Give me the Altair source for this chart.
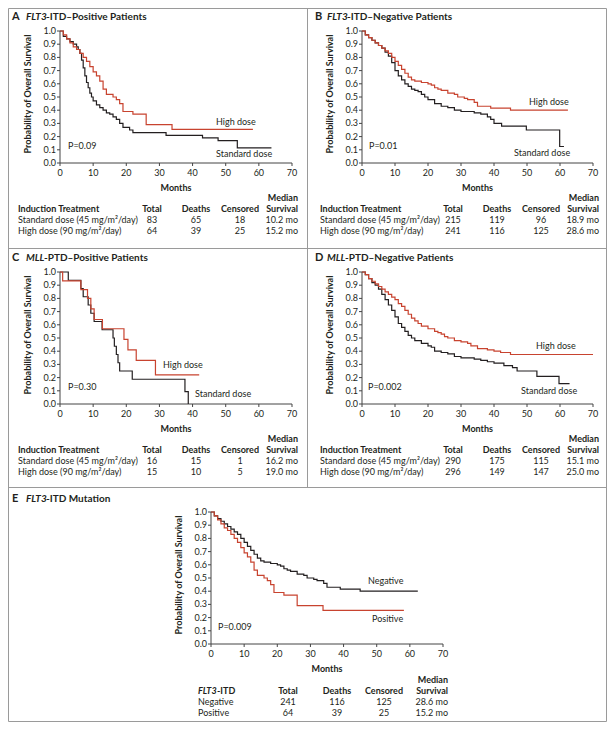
import altair as alt
import pandas as pd

# ---------------- data ----------------
# Panel A: FLT3-ITD positive
A_std_t = [0, 1, 2, 3, 4, 5, 5.5, 6, 6.5, 7, 7.5, 8, 8.5, 9, 9.5, 10, 11, 12, 13, 14, 15, 16, 17, 18, 19, 21, 22, 32, 43, 47.7, 53.5, 63.8]
A_std_s = [1, 0.96, 0.94, 0.92, 0.90, 0.88, 0.86, 0.83, 0.78, 0.72, 0.66, 0.61, 0.57, 0.53, 0.50, 0.47, 0.44, 0.42, 0.40, 0.38, 0.37, 0.35, 0.33, 0.30, 0.27, 0.25, 0.23, 0.21, 0.19, 0.17, 0.115, 0.115]
A_high_t = [0, 1, 2, 3, 4, 5, 6, 7, 8, 9, 10, 11, 12, 13, 14, 16, 17, 18, 19, 22, 26, 33.8, 58.2]
A_high_s = [1, 0.97, 0.94, 0.91, 0.88, 0.86, 0.83, 0.80, 0.77, 0.73, 0.69, 0.66, 0.62, 0.56, 0.52, 0.50, 0.48, 0.45, 0.39, 0.37, 0.29, 0.255, 0.255]

# Panel B: FLT3-ITD negative
B_std_t = [0, 1, 2, 3, 4, 5, 6, 7, 8, 9, 10, 11, 12, 13, 14, 15, 16, 17, 18, 19, 20, 22, 24, 26, 28, 30, 34, 36, 38, 39, 40, 42.3, 49.8, 59.9, 61.2]
B_std_s = [1, 0.97, 0.95, 0.93, 0.91, 0.89, 0.87, 0.84, 0.81, 0.76, 0.70, 0.66, 0.63, 0.60, 0.58, 0.56, 0.55, 0.54, 0.52, 0.50, 0.48, 0.45, 0.43, 0.42, 0.40, 0.39, 0.38, 0.37, 0.35, 0.33, 0.30, 0.28, 0.25, 0.125, 0.125]
B_high_t = [0, 1, 2, 3, 4, 5, 6, 7, 8, 9, 10, 11, 12, 13, 14, 15, 16, 18, 20, 21, 22, 23, 24, 26, 28, 29, 31, 32, 34, 35, 39, 45, 62.4]
B_high_s = [1, 0.97, 0.95, 0.93, 0.91, 0.89, 0.87, 0.85, 0.83, 0.80, 0.77, 0.74, 0.71, 0.68, 0.65, 0.63, 0.62, 0.61, 0.60, 0.59, 0.57, 0.56, 0.55, 0.53, 0.52, 0.50, 0.49, 0.48, 0.46, 0.43, 0.415, 0.40, 0.40]

# Panel C: MLL-PTD positive
C_std_t = [0, 2.5, 6.3, 7.0, 8.5, 9.3, 10.3, 12.7, 16.0, 16.4, 17.0, 17.5, 18.0, 21.8, 37.7, 38.7]
C_std_s = [1, 0.9375, 0.875, 0.8125, 0.75, 0.6875, 0.625, 0.5625, 0.5, 0.4375, 0.375, 0.3125, 0.25, 0.1875, 0.09375, 0]
C_high_t = [0, 0.8, 6.3, 8.3, 9.3, 10.3, 12.8, 19.3, 20.5, 23.0, 28.8, 42.0]
C_high_s = [1, 0.933, 0.867, 0.80, 0.72, 0.64, 0.57, 0.49, 0.41, 0.33, 0.22, 0.22]

# Panel D: MLL-PTD negative
D_std_t = [0, 1, 2, 3, 4, 5, 6, 7, 8, 9, 10, 11, 12, 13, 14, 15, 16, 18, 20, 21, 22, 24, 26, 28, 30, 32, 34, 36, 38, 40, 43, 45.6, 47, 53, 59.7, 62.9]
D_std_s = [1, 0.98, 0.95, 0.92, 0.90, 0.87, 0.83, 0.79, 0.75, 0.71, 0.66, 0.61, 0.58, 0.55, 0.52, 0.50, 0.48, 0.46, 0.44, 0.43, 0.40, 0.39, 0.38, 0.36, 0.35, 0.35, 0.34, 0.33, 0.32, 0.31, 0.29, 0.275, 0.25, 0.21, 0.155, 0.155]
D_high_t = [0, 1, 2, 3, 4, 5, 6, 7, 8, 9, 10, 11, 12, 13, 14, 15, 16, 17, 18, 20, 22, 23, 24, 25, 26, 28, 30, 32, 33, 35, 38, 40, 42, 45, 70]
D_high_s = [1, 0.98, 0.95, 0.93, 0.91, 0.89, 0.87, 0.85, 0.83, 0.81, 0.79, 0.76, 0.74, 0.71, 0.68, 0.65, 0.63, 0.61, 0.59, 0.57, 0.55, 0.54, 0.53, 0.51, 0.50, 0.48, 0.47, 0.46, 0.44, 0.42, 0.41, 0.40, 0.39, 0.375, 0.375]

# Panel E: FLT3-ITD negative vs positive (same patients as the high-dose groups)
E_neg_t, E_neg_s = B_high_t, B_high_s
E_pos_t, E_pos_s = A_high_t, A_high_s

# tables
STD_LABEL = "Standard dose (45 mg/m\u00b2/day)"
HIGH_LABEL = "High dose (90 mg/m\u00b2/day)"
A_total, A_deaths, A_cens, A_med = [83, 64], [65, 39], [18, 25], [10.2, 15.2]
B_total, B_deaths, B_cens, B_med = [215, 241], [119, 116], [96, 125], [18.9, 28.6]
C_total, C_deaths, C_cens, C_med = [16, 15], [15, 10], [1, 5], [16.2, 19.0]
D_total, D_deaths, D_cens, D_med = [290, 296], [175, 149], [115, 147], [15.1, 25.0]
E_labels = ["Negative", "Positive"]
E_total, E_deaths, E_cens, E_med = [241, 64], [116, 39], [125, 25], [28.6, 15.2]

X_TICKS = [0, 10, 20, 30, 40, 50, 60, 70]
Y_TICKS = [0.0, 0.1, 0.2, 0.3, 0.4, 0.5, 0.6, 0.7, 0.8, 0.9, 1.0]

# ---------------- style ----------------
FONT = "Lato"
RED = "#c8432f"
BLK = "#231f20"
TXT = "#231f20"
AX = "#444444"
BORDER = "#9a9a9a"
OFF = 8  # page margin
ONE = pd.DataFrame({"k": [0]})


def txt(s, x, y, align="left", size=9, weight="normal", style="normal", color=TXT, angle=0):
    return alt.Chart(ONE).mark_text(
        text=s, align=align, baseline="middle", fontSize=size, fontWeight=weight,
        fontStyle=style, color=color, font=FONT, angle=angle
    ).encode(x=alt.value(x - OFF), y=alt.value(y - OFF))


def rule(x1, x2, y1, y2, color=BORDER, w=1):
    return alt.Chart(ONE).mark_rule(color=color, strokeWidth=w).encode(
        x=alt.value(x1), x2=alt.value(x2), y=alt.value(y1), y2=alt.value(y2))


def curve(t, s, color, xs, ys):
    df = pd.DataFrame({"t": t, "s": s})
    return alt.Chart(df).mark_line(interpolate="step-after", color=color, strokeWidth=1.2).encode(
        x=alt.X("t:Q", scale=xs, axis=None), y=alt.Y("s:Q", scale=ys, axis=None))


def panel(x0, x1, yb, yt, series, labels, pval, pxy):
    xs = alt.Scale(domain=[0, 70], range=[x0 - OFF, x1 - OFF], nice=False, zero=False)
    ys = alt.Scale(domain=[0, 1], range=[yb - OFF, yt - OFF], nice=False, zero=False)
    layers = []
    xt = pd.DataFrame({"v": X_TICKS})
    yt_df = pd.DataFrame({"v": Y_TICKS})
    dom = pd.DataFrame({"a": [0], "b": [70], "c": [0], "d": [1]})
    # x axis
    layers.append(alt.Chart(dom).mark_rule(color=AX, strokeWidth=1).encode(
        x=alt.X("a:Q", scale=xs, axis=None), x2="b:Q", y=alt.value(yb - OFF)))
    layers.append(alt.Chart(xt).mark_rule(color=AX, strokeWidth=1).encode(
        x=alt.X("v:Q", scale=xs, axis=None), y=alt.value(yb - OFF), y2=alt.value(yb - OFF + 3)))
    layers.append(alt.Chart(xt).mark_text(baseline="top", fontSize=9, font=FONT, color=TXT).encode(
        x=alt.X("v:Q", scale=xs, axis=None), y=alt.value(yb - OFF + 6), text="v:Q"))
    # y axis
    layers.append(alt.Chart(dom).mark_rule(color=AX, strokeWidth=1).encode(
        y=alt.Y("c:Q", scale=ys, axis=None), y2="d:Q", x=alt.value(x0 - OFF)))
    layers.append(alt.Chart(yt_df).mark_rule(color=AX, strokeWidth=1).encode(
        y=alt.Y("v:Q", scale=ys, axis=None), x=alt.value(x0 - OFF - 3), x2=alt.value(x0 - OFF)))
    layers.append(alt.Chart(yt_df).mark_text(align="right", baseline="middle", fontSize=9, font=FONT, color=TXT).encode(
        y=alt.Y("v:Q", scale=ys, axis=None), x=alt.value(x0 - OFF - 4), text=alt.Text("v:Q", format=".1f")))
    for t, s, c in series:
        layers.append(curve(t, s, c, xs, ys))
    for s, x, y in labels:
        layers.append(txt(s, x, y))
    layers.append(txt(pval, pxy[0], pxy[1]))
    # axis titles
    layers.append(txt("Months", (x0 + x1) / 2, yb + 25, align="center", weight="bold"))
    layers.append(txt("Probability of Overall Survival", x0 - 32, (yb + yt) / 2 - 3,
                      align="center", weight="bold", angle=270))
    return alt.layer(*layers)


def title(letter, ital, rest, xl, xi, xr, y):
    return [txt(letter, xl, y, size=11, weight="bold"),
            txt(ital, xi, y, size=10, weight="bold", style="italic"),
            txt(rest, xr, y, size=10, weight="bold")]


def table(xl, xt, xd, xc, xm, ytop, head, rows, totals, deaths, cens, meds):
    out = [txt("Median", xm, ytop, align="right", weight="bold")]
    yh = ytop + 11
    out += head(yh)
    out += [txt("Total", xt, yh, align="center", weight="bold"),
            txt("Deaths", xd, yh, align="center", weight="bold"),
            txt("Censored", xc, yh, align="center", weight="bold"),
            txt("Survival", xm, yh, align="right", weight="bold")]
    for i in range(2):
        y = yh + 11 * (i + 1)
        out += [txt(rows[i], xl, y),
                txt(str(totals[i]), xt, y, align="center"),
                txt(str(deaths[i]), xd, y, align="center"),
                txt(str(cens[i]), xc, y, align="center"),
                txt(f"{meds[i]:.1f} mo", xm, y, align="right")]
    return out


def ind_head(xl):
    return lambda y: [txt("Induction Treatment", xl, y, weight="bold")]


def flt_head(xl, xr):
    return lambda y: [txt("FLT3", xl, y, weight="bold", style="italic"),
                      txt("-ITD", xr, y, weight="bold")]


layers = []
# Panel A
layers.append(panel(60, 292, 163, 31,
                    [(A_std_t, A_std_s, BLK), (A_high_t, A_high_s, RED)],
                    [("High dose", 216, 122), ("Standard dose", 216, 154)],
                    "P=0.09", (68, 146)))
# Panel B
layers.append(panel(362, 593, 163, 31,
                    [(B_std_t, B_std_s, BLK), (B_high_t, B_high_s, RED)],
                    [("High dose", 529, 102), ("Standard dose", 514, 153)],
                    "P=0.01", (369, 146)))
# Panel C
layers.append(panel(60, 292, 404, 272,
                    [(C_std_t, C_std_s, BLK), (C_high_t, C_high_s, RED)],
                    [("High dose", 163, 365), ("Standard dose", 195, 394)],
                    "P=0.30", (68, 387)))
# Panel D
layers.append(panel(362, 593, 404, 272,
                    [(D_std_t, D_std_s, BLK), (D_high_t, D_high_s, RED)],
                    [("High dose", 536, 346), ("Standard dose", 521, 391)],
                    "P=0.002", (368, 387)))
# Panel E
layers.append(panel(211, 443, 644, 512,
                    [(E_neg_t, E_neg_s, BLK), (E_pos_t, E_pos_s, RED)],
                    [("Negative", 368, 581), ("Positive", 372, 619)],
                    "P=0.009", (218, 627)))

deco = []
deco += title("A", "FLT3", "-ITD\u2013Positive Patients", 12, 26, 46, 17)
deco += title("B", "FLT3", "-ITD\u2013Negative Patients", 315, 327, 347, 17)
deco += title("C", "MLL", "-PTD\u2013Positive Patients", 12, 26, 44, 258)
deco += title("D", "MLL", "-PTD\u2013Negative Patients", 315, 327, 345, 258)
deco += title("E", "FLT3", "-ITD Mutation", 12, 26, 46, 499)

deco += table(18, 152, 196, 240, 298, 198, ind_head(18), [STD_LABEL, HIGH_LABEL], A_total, A_deaths, A_cens, A_med)
deco += table(320, 453, 497, 541, 599, 198, ind_head(320), [STD_LABEL, HIGH_LABEL], B_total, B_deaths, B_cens, B_med)
deco += table(18, 152, 196, 240, 298, 439, ind_head(18), [STD_LABEL, HIGH_LABEL], C_total, C_deaths, C_cens, C_med)
deco += table(320, 453, 497, 541, 599, 439, ind_head(320), [STD_LABEL, HIGH_LABEL], D_total, D_deaths, D_cens, D_med)
deco += table(198, 288, 337, 384, 448, 680, flt_head(198, 217), E_labels, E_total, E_deaths, E_cens, E_med)

# frame (chart coordinates)
deco += [rule(0.5, 598.5, 0.5, 0.5), rule(0.5, 598.5, 713.5, 713.5),
         rule(0.5, 0.5, 0.5, 713.5), rule(598.5, 598.5, 0.5, 713.5),
         rule(299.5, 299.5, 0.5, 479.5),
         rule(0.5, 598.5, 240.5, 240.5), rule(0.5, 598.5, 479.5, 479.5)]

chart = alt.layer(*layers, *deco).resolve_scale(x="independent", y="independent").properties(
    width=599, height=714, autosize=alt.AutoSizeParams(type="none"), padding=0
).configure_view(stroke=None)

chart.save("out.html", embed_options={"renderer": "svg", "actions": False})
